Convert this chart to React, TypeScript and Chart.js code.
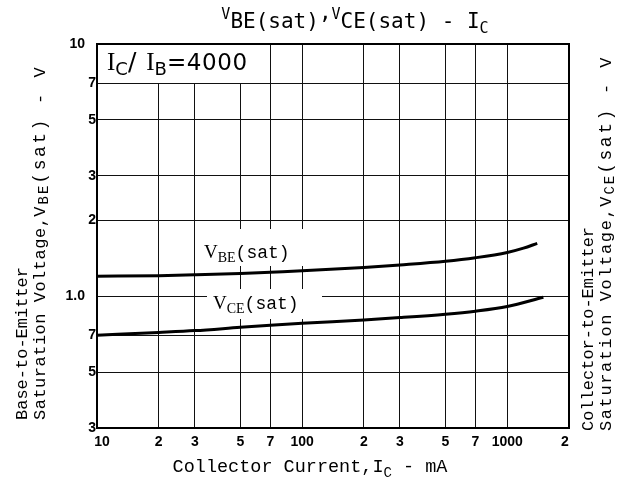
import { useEffect, useRef } from "react";
import { Chart, registerables } from "chart.js";

Chart.register(...registerables);

// Collector current, mA (V_BE(sat) curve)
const vbeCurrentMA = [10, 20, 30, 50, 70, 100, 200, 300, 500, 700, 1000, 1200, 1400];
// Base-to-emitter saturation voltage, V
const vbeSat = [1.2, 1.206, 1.215, 1.23, 1.245, 1.26, 1.3, 1.33, 1.375, 1.42, 1.49, 1.55, 1.62];
// Collector current, mA (V_CE(sat) curve)
const vceCurrentMA = [10, 20, 30, 50, 70, 100, 200, 300, 500, 700, 1000, 1500];
// Collector-to-emitter saturation voltage, V
const vceSat = [0.7, 0.718, 0.73, 0.752, 0.766, 0.78, 0.805, 0.822, 0.848, 0.872, 0.91, 0.99];

const xTickValues = [10, 20, 30, 50, 70, 100, 200, 300, 500, 700, 1000, 2000];
const xTickLabels = ["10", "2", "3", "5", "7", "100", "2", "3", "5", "7", "1000", "2"];
const yTickValues = [0.3, 0.5, 0.7, 1, 2, 3, 5, 7, 10];
const yTickLabels = ["3", "5", "7", "1.0", "2", "3", "5", "7", "10"];

type Part = { t: string; f: string; dy?: number; ls?: number };

function partWidth(ctx: CanvasRenderingContext2D, p: Part) {
  ctx.font = p.f;
  (ctx as any).letterSpacing = "0px";
  return ctx.measureText(p.t).width + (p.ls || 0) * p.t.length;
}

function drawRich(ctx: CanvasRenderingContext2D, parts: Part[], x: number, y: number, align: "left" | "center" = "left") {
  ctx.save();
  ctx.textBaseline = "alphabetic";
  ctx.textAlign = "left";
  let total = 0;
  for (const p of parts) total += partWidth(ctx, p);
  let cx = align === "center" ? x - total / 2 : x;
  for (const p of parts) {
    const w = partWidth(ctx, p);
    (ctx as any).letterSpacing = `${p.ls || 0}px`;
    ctx.fillText(p.t, cx, y + (p.dy || 0));
    cx += w;
  }
  (ctx as any).letterSpacing = "0px";
  ctx.restore();
}

function drawRotated(ctx: CanvasRenderingContext2D, parts: Part[], x: number, y: number) {
  ctx.save();
  ctx.translate(x, y);
  ctx.rotate(-Math.PI / 2);
  drawRich(ctx, parts, 0, 0, "left");
  ctx.restore();
}

const MONO = "'Liberation Mono', monospace";
const TMONO = "'DejaVu Sans Mono', monospace";
const SERIF = "'Liberation Serif', serif";
const SANS = "'DejaVu Sans', sans-serif";
const TICK = "bold 14px 'Liberation Sans', sans-serif";

function satLine(sub: string, lsMain: number): Part[] {
  return [
    { t: "Saturation Voltage,", f: `17px ${MONO}`, ls: lsMain },
    { t: "V", f: `17px ${MONO}`, ls: 2 },
    { t: sub, f: `14px ${MONO}`, dy: 3, ls: 2 },
    { t: "(sat)", f: `18px ${MONO}`, ls: 2.5 },
    { t: " - V", f: `17px ${MONO}`, ls: 3 },
  ];
}

const overlay = {
  id: "overlay",
  beforeDatasetsDraw(chart: any) {
    const ctx: CanvasRenderingContext2D = chart.ctx;
    ctx.save();
    ctx.fillStyle = "#fff";
    ctx.fillRect(99, 45, 164, 38); // ratio label box
    ctx.fillRect(200, 229, 106, 37); // VBE label box
    ctx.fillRect(207, 289, 115, 30); // VCE label box
    ctx.restore();
  },
  afterDatasetsDraw(chart: any) {
    const ctx: CanvasRenderingContext2D = chart.ctx;
    const a = chart.chartArea;
    const xs = chart.scales.x;
    const ys = chart.scales.y;
    ctx.save();
    ctx.strokeStyle = "#000";
    ctx.lineWidth = 2;
    ctx.strokeRect(a.left, a.top, a.right - a.left, a.bottom - a.top);
    ctx.fillStyle = "#000";

    // y tick labels
    ctx.font = TICK;
    ctx.textBaseline = "middle";
    ctx.textAlign = "right";
    yTickValues.forEach((v, i) => {
      const lab = yTickLabels[i];
      const py = ys.getPixelForValue(v);
      const rx = lab.length > 1 ? a.left - 12 : a.left - 1;
      ctx.fillText(lab, rx, py);
    });

    // x tick labels
    ctx.textBaseline = "top";
    ctx.textAlign = "center";
    xTickValues.forEach((v, i) => {
      const px = xs.getPixelForValue(v);
      const off = i === 0 ? 5 : i === xTickValues.length - 1 ? -4 : 0;
      ctx.fillText(xTickLabels[i], px + off, a.bottom + 7);
    });

    // title
    drawRich(
      ctx,
      [
        { t: "V", f: `15px ${TMONO}`, dy: -9 },
        { t: "BE(sat)", f: `21px ${TMONO}` },
        { t: ",", f: `21px ${TMONO}`, dy: -9 },
        { t: "V", f: `15px ${TMONO}`, dy: -9 },
        { t: "CE(sat) - I", f: `21px ${TMONO}` },
        { t: "C", f: `15px ${TMONO}`, dy: 5 },
      ],
      355,
      28,
      "center"
    );

    // x axis title
    drawRich(
      ctx,
      [
        { t: "Collector Current,I", f: `18.5px ${MONO}` },
        { t: "C", f: `14px ${MONO}`, dy: 5 },
        { t: " - mA", f: `18.5px ${MONO}` },
      ],
      310,
      472,
      "center"
    );

    // left axis title
    drawRotated(ctx, [{ t: "Base-to-Emitter", f: `17px ${MONO}` }], 27, 420);
    drawRotated(ctx, satLine("BE", 0.5), 45, 420);

    // right axis title
    drawRotated(ctx, [{ t: "Collector-to-Emitter", f: `17px ${MONO}` }], 593, 431);
    drawRotated(ctx, satLine("CE", 1.6), 611, 431);

    // ratio label
    drawRich(
      ctx,
      [
        { t: "I", f: `25px ${SERIF}` },
        { t: "C", f: `18px ${SANS}`, dy: 5 },
        { t: "/ ", f: `25px ${SANS}`, ls: 1 },
        { t: "I", f: `25px ${SERIF}` },
        { t: "B", f: `18px ${SANS}`, dy: 5 },
        { t: "=4000", f: `23px ${SANS}`, ls: 0.6 },
      ],
      107,
      70
    );

    // curve labels
    drawRich(
      ctx,
      [
        { t: "V", f: `19px ${SERIF}` },
        { t: "BE", f: `14px ${SERIF}`, dy: 4 },
        { t: "(sat)", f: `18px ${MONO}` },
      ],
      204,
      258
    );
    drawRich(
      ctx,
      [
        { t: "V", f: `19px ${SERIF}` },
        { t: "CE", f: `14px ${SERIF}`, dy: 4 },
        { t: "(sat)", f: `18px ${MONO}` },
      ],
      213,
      309
    );
    ctx.restore();
  },
};

export default function App() {
  const ref = useRef<HTMLCanvasElement | null>(null);
  useEffect(() => {
    if (!ref.current) return;
    const chart = new Chart(ref.current, {
      type: "line",
      data: {
        datasets: [
          {
            data: vbeCurrentMA.map((x, i) => ({ x, y: vbeSat[i] })),
            borderColor: "#000",
            borderWidth: 3,
            pointRadius: 0,
            cubicInterpolationMode: "monotone",
          },
          {
            data: vceCurrentMA.map((x, i) => ({ x, y: vceSat[i] })),
            borderColor: "#000",
            borderWidth: 3,
            pointRadius: 0,
            cubicInterpolationMode: "monotone",
          },
        ],
      },
      options: {
        animation: false,
        responsive: false,
        maintainAspectRatio: false,
        devicePixelRatio: 1,
        layout: { padding: { left: 97, right: 57, top: 44, bottom: 58 } },
        plugins: { legend: { display: false }, tooltip: { enabled: false } },
        scales: {
          x: {
            type: "logarithmic",
            min: 10,
            max: 2000,
            afterBuildTicks: (s: any) => {
              s.ticks = xTickValues.map((v) => ({ value: v }));
            },
            afterFit: (s: any) => {
              s.height = 0;
            },
            ticks: { display: false },
            grid: { color: "#111", lineWidth: 1, drawTicks: false },
            border: { display: false },
          },
          y: {
            type: "logarithmic",
            min: 0.3,
            max: 10,
            afterBuildTicks: (s: any) => {
              s.ticks = yTickValues.map((v) => ({ value: v }));
            },
            afterFit: (s: any) => {
              s.width = 0;
            },
            ticks: { display: false },
            grid: { color: "#111", lineWidth: 1, drawTicks: false },
            border: { display: false },
          },
        },
      },
      plugins: [overlay],
    } as any);
    return () => chart.destroy();
  }, []);
  return (
    <div style={{ position: "fixed", left: 0, top: 0, width: 626, height: 486, background: "#fff" }}>
      <canvas ref={ref} width={626} height={486} style={{ display: "block" }} />
    </div>
  );
}
